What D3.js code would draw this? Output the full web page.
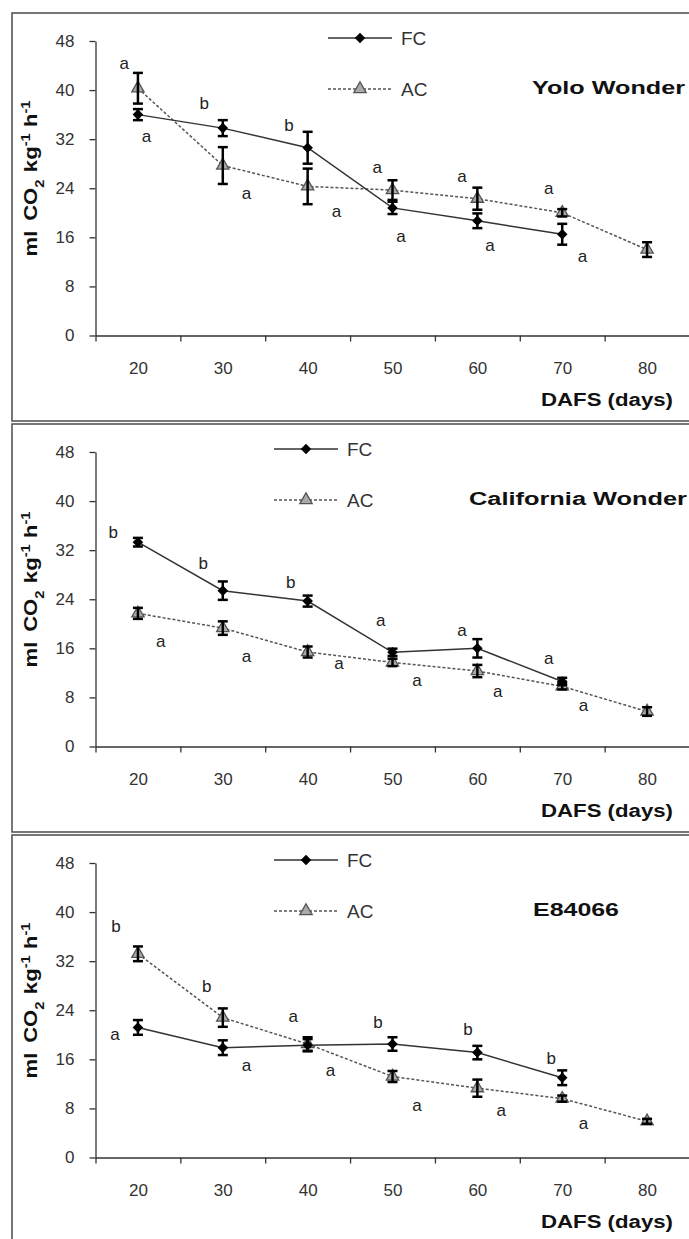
<!DOCTYPE html>
<html><head><meta charset="utf-8">
<script src="https://cdn.jsdelivr.net/npm/d3@7"></script>
<style>body{margin:0;background:#fff} svg{display:block} text{font-family:"Liberation Sans",Arial,sans-serif}</style>
</head><body>
<script>
// ---------- data ----------
const categories = [20, 30, 40, 50, 60, 70, 80];
const xTickBounds = [15, 25, 35, 45, 55, 65, 75, 85];
const yTicks = [0, 8, 16, 24, 32, 40, 48];
const seriesNames = ["FC", "AC"];
const panelTitles = ["Yolo Wonder", "California Wonder", "E84066"];
const xTitle = "DAFS (days)";

// Yolo Wonder
const fcYolo    = [36.0, 33.8, 30.6, 20.8, 18.7, 16.5, null];
const fcYoloErr = [0.9, 1.3, 2.6, 1.0, 1.2, 1.7, null];
const acYolo    = [40.3, 27.7, 24.3, 23.7, 22.3, 20.0, 14.0];
const acYoloErr = [2.5, 3.0, 2.9, 1.6, 1.8, 0.6, 1.2];
const yoloUpText = ["a", "b", "b", "a", "a", "a"];
const yoloUpDay  = [18.4, 27.8, 37.8, 48.2, 58.2, 68.4];
const yoloUpVal  = [44.2, 37.6, 34.1, 27.3, 25.8, 23.8];
const yoloLoText = ["a", "a", "a", "a", "a", "a"];
const yoloLoDay  = [21.0, 32.8, 43.4, 51.0, 61.5, 72.4];
const yoloLoVal  = [32.3, 23.0, 20.1, 16.0, 14.5, 12.7];

// California Wonder
const fcCal    = [33.3, 25.4, 23.7, 15.35, 16.0, 10.6, null];
const fcCalErr = [0.7, 1.5, 0.9, 0.6, 1.5, 0.6, null];
const acCal    = [21.7, 19.3, 15.4, 13.7, 12.3, 9.8, 5.7];
const acCalErr = [0.9, 1.1, 0.9, 0.6, 1.0, 0.5, 0.7];
const calUpText = ["b", "b", "b", "a", "a", "a"];
const calUpDay  = [17.1, 27.7, 38.0, 48.6, 58.2, 68.4];
const calUpVal  = [34.7, 29.7, 26.6, 20.4, 18.8, 14.2];
const calLoText = ["a", "a", "a", "a", "a", "a"];
const calLoDay  = [22.7, 32.8, 43.7, 52.9, 62.4, 72.5];
const calLoVal  = [16.9, 14.6, 13.3, 10.6, 8.8, 6.6];

// E84066
const fcE    = [21.2, 17.9, 18.3, 18.5, 17.1, 13.0, null];
const fcEErr = [1.2, 1.2, 1.0, 1.1, 1.1, 1.2, null];
const acE    = [33.2, 22.8, 18.5, 13.2, 11.3, 9.6, 5.9];
const acEErr = [1.2, 1.5, 1.1, 0.9, 1.4, 0.5, 0.4];
const eUpText = ["b", "b", "a", "b", "b", "b"];
const eUpDay  = [17.4, 28.1, 38.3, 48.3, 58.9, 68.7];
const eUpVal  = [37.5, 27.7, 22.8, 21.8, 20.7, 16.0];
const eLoText = ["a", "a", "a", "a", "a", "a"];
const eLoDay  = [17.3, 32.8, 42.7, 52.9, 62.8, 72.5];
const eLoVal  = [19.9, 14.8, 14.0, 8.4, 7.5, 5.4];

// ---------- layout ----------
const W = 689, H = 1239;
const panelOffsets = [0, 411, 822];
const legendX = [328, 274, 274];
const titleX = [532, 469, 533];
const titleLen = [153, 218, 86];

const panels = [
  {fc: fcYolo, fcErr: fcYoloErr, ac: acYolo, acErr: acYoloErr,
   up: [yoloUpText, yoloUpDay, yoloUpVal], lo: [yoloLoText, yoloLoDay, yoloLoVal]},
  {fc: fcCal, fcErr: fcCalErr, ac: acCal, acErr: acCalErr,
   up: [calUpText, calUpDay, calUpVal], lo: [calLoText, calLoDay, calLoVal]},
  {fc: fcE, fcErr: fcEErr, ac: acE, acErr: acEErr,
   up: [eUpText, eUpDay, eUpVal], lo: [eLoText, eLoDay, eLoVal]}
];

const svg = d3.select("body").append("svg").attr("width", W).attr("height", H);
svg.append("rect").attr("width", W).attr("height", H).attr("fill", "#fff");

const x = d3.scaleLinear().domain([15, 85]).range([95.5, 689.5]);
const y = d3.scaleLinear().domain([0, 48]).range([335.5, 41]);

const diamond = d3.symbol().type(d3.symbolSquare).size(56);
const triangle = d3.symbol().type(d3.symbolTriangle).size(66);

panels.forEach((p, i) => {
  const g = svg.append("g").attr("transform", `translate(0,${panelOffsets[i]})`);

  // frame
  g.append("rect").attr("x", 12).attr("y", 13).attr("width", 720).attr("height", 408)
    .attr("fill", "none").attr("stroke", "#555").attr("stroke-width", 1.6);

  // y axis
  const ya = g.append("g").attr("transform", "translate(95.5,0)")
    .call(d3.axisLeft(y).tickValues(yTicks).tickSize(6).tickSizeOuter(0).tickPadding(15));
  // x axis ticks (category boundaries)
  const xa = g.append("g").attr("transform", `translate(0,${y(0)})`)
    .call(d3.axisBottom(x).tickValues(xTickBounds).tickFormat("").tickSize(6).tickSizeOuter(0));
  // x axis labels (category centers)
  const xl = g.append("g").attr("transform", `translate(0,${y(0)})`)
    .call(d3.axisBottom(x).tickValues(categories).tickFormat(d3.format("d")).tickSize(0).tickPadding(26));
  xl.select(".domain").remove();
  [ya, xa].forEach(a => {
    a.select(".domain").attr("stroke", "#333").attr("stroke-width", 1.3);
    a.selectAll(".tick line").attr("stroke", "#333").attr("stroke-width", 1.3);
  });
  [ya, xl].forEach(a => a.selectAll(".tick text")
    .attr("font-size", 17).attr("fill", "#333").attr("font-family", "Liberation Sans, Arial, sans-serif"));

  // y-axis title
  const yt = g.append("text")
    .attr("transform", "translate(36.5,178.5) rotate(-90)")
    .attr("text-anchor", "middle").attr("font-weight", "bold").attr("font-size", 18).attr("fill", "#111")
    .attr("textLength", 156).attr("lengthAdjust", "spacingAndGlyphs");
  yt.append("tspan").text("ml");
  yt.append("tspan").attr("dx", 8).text("CO");
  yt.append("tspan").attr("baseline-shift", "sub").attr("font-size", 12).text("2");
  yt.append("tspan").attr("dx", 6).text("kg");
  yt.append("tspan").attr("baseline-shift", "super").attr("font-size", 12).text("-1");
  yt.append("tspan").attr("dx", 5).text("h");
  yt.append("tspan").attr("baseline-shift", "super").attr("font-size", 12).text("-1");

  // x-axis title
  g.append("text").attr("x", 541).attr("y", 406).attr("font-weight", "bold").attr("font-size", 18)
    .attr("fill", "#111").attr("textLength", 132).attr("lengthAdjust", "spacingAndGlyphs").text(xTitle);

  // panel title
  g.append("text").attr("x", titleX[i]).attr("y", 88).attr("dy", "0.35em")
    .attr("font-weight", "bold").attr("font-size", 18).attr("fill", "#111")
    .attr("textLength", titleLen[i]).attr("lengthAdjust", "spacingAndGlyphs").text(panelTitles[i]);

  // legend
  const lx = legendX[i];
  const legendY = [38, 89];
  [0, 1].forEach(k => {
    const ly = legendY[k];
    g.append("line").attr("x1", lx).attr("x2", lx + 64).attr("y1", ly).attr("y2", ly)
      .attr("stroke", k === 0 ? "#333" : "#555").attr("stroke-width", 1.5)
      .attr("stroke-dasharray", k === 0 ? null : "3,2");
    if (k === 0) {
      g.append("path").attr("d", diamond).attr("transform", `translate(${lx + 32},${ly}) rotate(45)`).attr("fill", "#000");
    } else {
      g.append("path").attr("d", triangle).attr("transform", `translate(${lx + 32},${ly})`)
        .attr("fill", "#aaa").attr("stroke", "#555").attr("stroke-width", 1.3);
    }
    g.append("text").attr("x", lx + 73).attr("y", ly).attr("dy", "0.36em").attr("font-size", 19)
      .attr("fill", "#333").text(seriesNames[k]);
  });

  const fcPts = categories.map((c, j) => ({c, v: p.fc[j], e: p.fcErr[j]})).filter(d => d.v != null);
  const acPts = categories.map((c, j) => ({c, v: p.ac[j], e: p.acErr[j]})).filter(d => d.v != null);
  const line = d3.line().x(d => x(d.c)).y(d => y(d.v));

  g.append("path").datum(acPts).attr("d", line).attr("fill", "none")
    .attr("stroke", "#555").attr("stroke-width", 1.5).attr("stroke-dasharray", "3,2");
  g.append("path").datum(fcPts).attr("d", line).attr("fill", "none")
    .attr("stroke", "#333").attr("stroke-width", 1.5);

  // markers
  g.selectAll(".ac").data(acPts).join("path").attr("d", triangle)
    .attr("transform", d => `translate(${x(d.c)},${y(d.v)})`)
    .attr("fill", "#aaa").attr("stroke", "#555").attr("stroke-width", 1.3);
  g.selectAll(".fc").data(fcPts).join("path").attr("d", diamond)
    .attr("transform", d => `translate(${x(d.c)},${y(d.v)}) rotate(45)`).attr("fill", "#000");

  // error bars
  const eb = g.append("g").attr("stroke", "#000").attr("stroke-width", 2.5);
  [...fcPts, ...acPts].forEach(d => {
    const cx = x(d.c), y1 = y(d.v + d.e), y2 = y(d.v - d.e);
    eb.append("line").attr("x1", cx).attr("x2", cx).attr("y1", y1).attr("y2", y2);
    eb.append("line").attr("x1", cx - 5).attr("x2", cx + 5).attr("y1", y1).attr("y2", y1);
    eb.append("line").attr("x1", cx - 5).attr("x2", cx + 5).attr("y1", y2).attr("y2", y2);
  });

  // significance letters
  [p.up, p.lo].forEach(set => {
    set[0].forEach((t, j) => {
      g.append("text").attr("x", x(set[1][j])).attr("y", y(set[2][j])).attr("dy", "0.27em")
        .attr("text-anchor", "middle").attr("font-size", 17).attr("fill", "#222").text(t);
    });
  });
});
</script>
</body></html>
